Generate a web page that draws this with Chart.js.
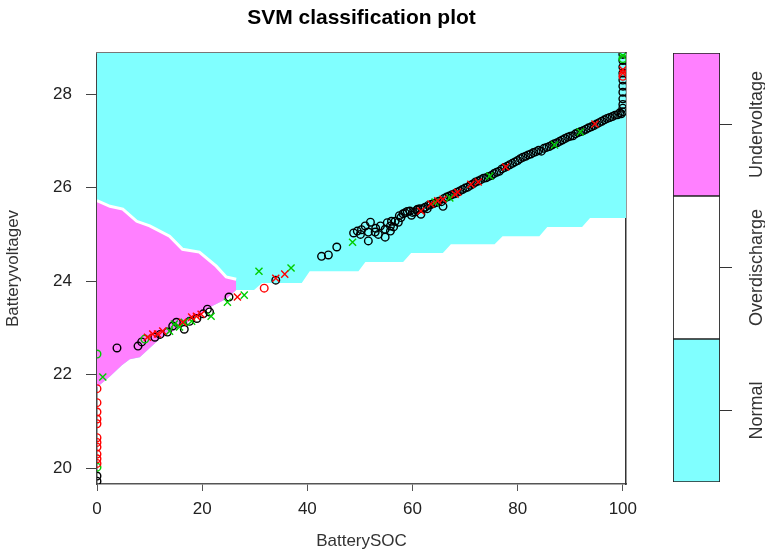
<!DOCTYPE html>
<html><head><meta charset="utf-8">
<script src="https://cdn.jsdelivr.net/npm/chart.js@4"></script>
<style>
html,body{margin:0;padding:0;background:#fff;}
#wrap{position:relative;width:765px;height:552px;overflow:hidden;}
#main{position:absolute;left:0;top:0;}
#bar{position:absolute;left:640px;top:0;}
</style></head><body>
<div id="wrap"><canvas id="main" width="765" height="552"></canvas><canvas id="bar" width="125" height="552"></canvas></div>
<script>
// ---- classes / colour bar ----
const classNames = ['Normal', 'Overdischarge', 'Undervoltage'];
const classColors = ['#80FFFF', '#FFFFFF', '#FF80FF'];
const colorbarValues = [1, 1, 1];
const colorbarTicks = [0.5, 1.5, 2.5];

// ---- axis ticks ----
const xTicks = [0, 20, 40, 60, 80, 100];
const yTicks = [20, 22, 24, 26, 28];

// ---- decision regions (BatterySOC, Batteryvoltagev) ----
const magentaTop = [[0,25.72],[2.46,25.6],[4.91,25.54],[7.56,25.28],[10.02,25.18],[13.8,24.96],[16.26,24.68],[19.47,24.62],[22.68,24.32],[24.57,24.09],[26.47,24.04]];
const magentaLow = [[0,21.73],[2.46,21.96],[4.73,22.2],[6.24,22.33],[8.13,22.37],[11.91,22.76],[17.58,23.14],[21.93,23.47],[24.57,23.62],[26.47,23.81]];
const stepBoundary = [[29.87,23.81],[31.38,23.96],[38.94,23.96],[40.45,24.21],[49.72,24.21],[51.04,24.41],[58.22,24.41],[59.74,24.6],[65.78,24.6],[67.3,24.79],[75.61,24.79],[77.13,24.96],[84.12,24.96],[85.63,25.16],[92.25,25.16],[93.76,25.35],[100.6,25.35]];

// ---- observations ----
const normalPts = [[0,19.83],[0,19.72],[3.8,22.57],[7.8,22.61],[8.5,22.7],[11.0,22.8],[12.0,22.86],[13.4,22.91],[14.4,23.04],[15.1,23.12],[16.6,22.97],[17.6,23.14],[19.0,23.2],[20.2,23.3],[21.0,23.4],[21.4,23.34],[25.1,23.66],[34.0,24.02],
[42.7,24.53],[44.0,24.56],[45.6,24.73],[48.8,25.03],[49.5,25.07],[50.1,25.0],[50.3,25.1],[51.0,25.18],[52.0,25.26],[51.6,25.05],[51.6,24.86],[52.9,25.05],[53.0,25.13],[53.5,25.0],[53.9,25.18],[54.8,25.11],[54.8,24.94],[55.2,25.25],[55.8,25.18],[55.8,25.07],[56.0,25.28],[56.4,25.16],[56.7,25.28],[57.3,25.26],[57.5,25.4],[57.8,25.36],[58.2,25.44],[58.6,25.46],[59.0,25.49],[59.5,25.5],[59.8,25.41],[60.0,25.47],[60.5,25.48],[60.8,25.52],[61.0,25.54],[61.4,25.55],[61.6,25.43],[62.0,25.55],[62.4,25.58],[62.8,25.55],[63.0,25.62],[63.5,25.64],[64.0,25.66],[64.5,25.68],[65.0,25.71],[65.5,25.7],[65.8,25.6],[66.0,25.77],[66.5,25.8],[67.0,25.82],[67.5,25.85],[68.0,25.87],[68.5,25.9],[69.0,25.93],[69.5,25.96],[70.0,25.99],[70.5,26.01],[71.0,26.05],[71.5,26.08],[72.0,26.12],[72.5,26.14],[73.0,26.17],[73.5,26.2],[74.0,26.21],[74.5,26.24],[75.0,26.26],[75.5,26.3],[76.0,26.33],[76.5,26.35],[77.0,26.4],[77.5,26.43],[78.0,26.46],[78.5,26.49],[79.0,26.52],[79.5,26.55],[80.0,26.58],[80.5,26.62],[81.0,26.65],[81.5,26.67],[82.0,26.7],[82.5,26.72],[83.0,26.75],[83.5,26.77],[84.0,26.8],[84.5,26.78],[85.0,26.84],[85.5,26.86],[86.0,26.88],[86.5,26.91],[87.0,26.94],[87.5,26.96],[88.0,26.99],[88.5,27.02],[89.0,27.05],[89.5,27.08],[90.0,27.1],[90.5,27.11],[91.0,27.15],[91.5,27.18],[92.0,27.2],[92.5,27.22],[93.0,27.25],[93.5,27.28],[94.0,27.3],[94.5,27.33],[95.0,27.36],[95.5,27.39],[96.0,27.42],[96.5,27.45],[97.0,27.48],[97.5,27.5],[98.0,27.52],[98.5,27.55],[99.0,27.56],[99.4,27.6],[99.7,27.58],
[100,27.62],[100,27.7],[100,27.78],[100,27.9],[100,28.04],[100,28.17],[100,28.3],[100,28.45],[100,28.58],[100,28.72],[100,28.85]];
const overPts = [[0,21.7],[0,21.4],[0,21.2],[0,21.05],[0,20.95],[0,20.65],[0,20.55],[0,20.45],[0,20.3],[0,20.2],[0,20.1],[31.8,23.85],[100,28.38]];
const underPts = [[0,22.44],[0,20.02],[9.1,22.76],[100,28.76]];
const overSV = [[9.6,22.8],[10.6,22.87],[11.5,22.87],[12.5,22.93],[16.3,23.12],[18.0,23.23],[18.9,23.25],[19.8,23.29],[26.7,23.66],[34.0,24.06],[35.7,24.15],[61.6,25.5],[63.5,25.65],[64.8,25.72],[65.8,25.75],[68.1,25.86],[68.6,25.9],[71.1,26.07],[72.5,26.12],[77.7,26.44],[94.7,27.36],[100,28.45],[100,28.52]];
const underSV = [[1.1,21.95],[13.8,22.93],[14.7,23.08],[15.7,23.02],[16.6,23.12],[18.0,23.14],[21.7,23.25],[24.8,23.55],[28.0,23.7],[30.8,24.21],[36.9,24.28],[48.6,24.83],[64.3,25.69],[67.1,25.78],[74.7,26.25],[87.0,26.91],[91.9,27.19],[100,28.82]];

Chart.defaults.font.family = '"Liberation Sans", Arial, sans-serif';
Chart.defaults.color = '#222';
const toXY = a => a.map(p => ({x: p[0], y: p[1]}));
const cyanLine = magentaLow.concat(stepBoundary);

function pts(data, color, style, radius, order) {
  return {type: 'scatter', data: toXY(data), pointStyle: style, pointRadius: radius, borderWidth: 1.4,
    borderColor: color, backgroundColor: 'rgba(0,0,0,0)', order: order, clip: 0};
}

new Chart(document.getElementById('main'), {
  type: 'scatter',
  data: {datasets: [
    pts(normalPts, '#000000', 'circle', 3.8, 4),
    pts(overPts, '#FF0000', 'circle', 3.8, 3),
    pts(underPts, '#00CD00', 'circle', 3.8, 3),
    pts(overSV, '#FF0000', 'crossRot', 5, 2),
    pts(underSV, '#00CD00', 'crossRot', 5, 2),
    {type: 'line', data: toXY(magentaTop), borderColor: '#FFFFFF', borderWidth: 3, pointRadius: 0, tension: 0, fill: 6, backgroundColor: classColors[2], order: 5},
    {type: 'line', data: toXY(magentaLow), borderColor: 'rgba(0,0,0,0)', borderWidth: 0, pointRadius: 0, tension: 0, fill: false, order: 6},
    {type: 'line', data: toXY(cyanLine), borderColor: 'rgba(0,0,0,0)', borderWidth: 0, pointRadius: 0, tension: 0, fill: 'end', backgroundColor: classColors[0], order: 7}
  ]},
  options: {
    responsive: false, animation: false, events: [],
    layout: {padding: {left: 0, right: 139, top: 0, bottom: 0}},
    plugins: {
      legend: {display: false}, tooltip: {enabled: false},
      title: {display: true, text: 'SVM classification plot', fullSize: false, color: '#000',
        font: {size: 21, weight: 'bold'}, padding: {top: 6, bottom: 21.8}}
    },
    scales: {
      x: {type: 'linear', position: 'bottom', min: 0, max: 100.6,
        afterBuildTicks: s => { s.ticks = xTicks.map(v => ({value: v})); },
        afterFit: s => { s.height = 68; },
        ticks: {font: {size: 17}, padding: 8, color: '#222'},
        grid: {drawOnChartArea: false, tickLength: 7, color: '#555'},
        border: {color: '#555', width: 1.5},
        title: {display: true, text: 'BatterySOC', font: {size: 17}, color: '#333', padding: {top: 0, bottom: 0}}},
      y: {type: 'linear', position: 'left', min: 19.66, max: 28.88,
        afterBuildTicks: s => { s.ticks = yTicks.map(v => ({value: v})); },
        afterFit: s => { s.width = 97; },
        ticks: {font: {size: 17}, padding: 14, color: '#222'},
        grid: {drawOnChartArea: false, tickLength: 11, color: '#444'},
        border: {color: '#444', width: 1.5},
        title: {display: true, text: 'Batteryvoltagev', font: {size: 17}, color: '#333', padding: {top: 3, bottom: 0}}},
      xTop: {type: 'linear', position: 'top', display: true, ticks: {display: false},
        grid: {display: false, drawTicks: false}, border: {color: '#777', width: 1.5},
        afterFit: s => { s.height = 0; }},
      yRight: {type: 'linear', position: 'right', display: true, ticks: {display: false},
        grid: {display: false, drawTicks: false}, border: {color: '#333', width: 1.5},
        afterFit: s => { s.width = 0; }}
    }
  }
});

const mctx = document.createElement('canvas').getContext('2d');
mctx.font = '18px "Liberation Sans", Arial, sans-serif';
const widest = Math.max(...classNames.map(n => mctx.measureText(n).width));

new Chart(document.getElementById('bar'), {
  type: 'bar',
  data: {labels: [''], datasets: classNames.map((n, i) => ({
    label: n, data: [colorbarValues[i]], backgroundColor: classColors[i], borderColor: '#222',
    borderWidth: 1.2, borderSkipped: false, barPercentage: 1, categoryPercentage: 1}))},
  options: {
    responsive: false, animation: false, events: [],
    layout: {padding: {left: 33, right: 0, top: 53, bottom: 70}},
    plugins: {legend: {display: false}, tooltip: {enabled: false}},
    scales: {
      x: {stacked: true, display: false},
      y: {stacked: true, position: 'right', min: 0, max: 3,
        afterBuildTicks: s => { s.ticks = colorbarTicks.map(v => ({value: v})); },
        afterFit: s => { s.width = 45; },
        ticks: {callback: (v, i) => classNames[i], minRotation: 90, maxRotation: 90, crossAlign: 'center',
          padding: 25 - widest / 2, font: {size: 18}, color: '#333'},
        grid: {drawOnChartArea: false, tickLength: 12, color: '#333'},
        border: {display: false}}
    }
  }
});
</script></body></html>
